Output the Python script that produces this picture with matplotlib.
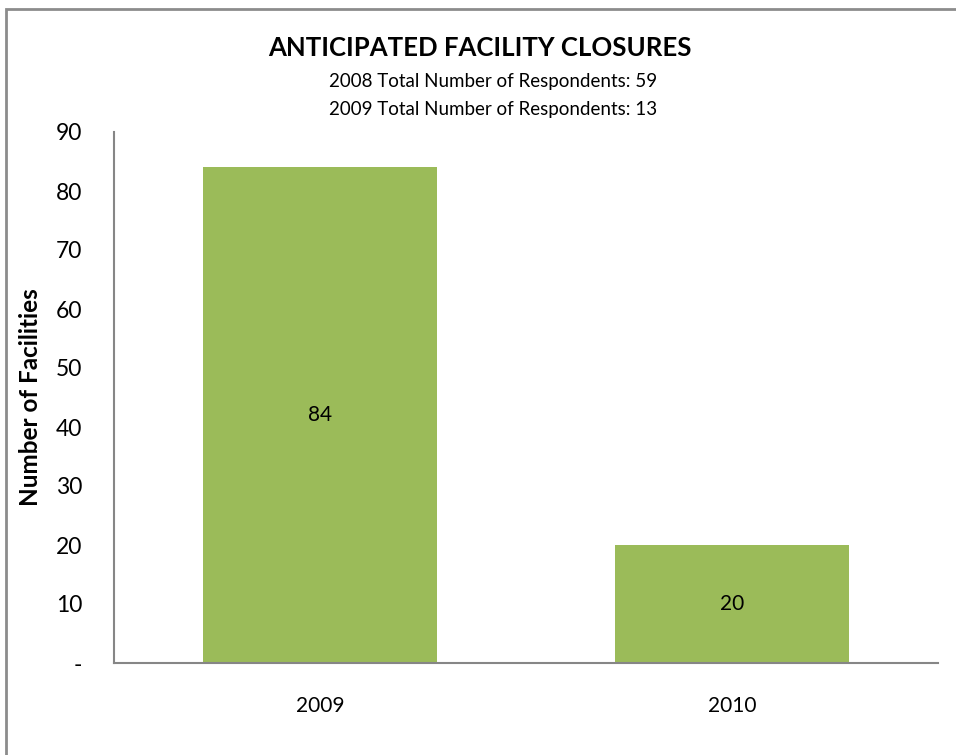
import matplotlib
matplotlib.use("Agg")
import matplotlib.pyplot as plt
from matplotlib.patches import Rectangle

plt.rcParams['font.family'] = ['Lato', 'DejaVu Sans']

years = ['2009', '2010']
closures = [84, 20]
y_ticks = [0, 10, 20, 30, 40, 50, 60, 70, 80, 90]
y_tick_labels = ['-', '10', '20', '30', '40', '50', '60', '70', '80', '90']

fig = plt.figure(figsize=(9.56, 7.55), dpi=100)

# outer chart frame (only left/top edges visible in the crop)
fig.patches.append(Rectangle((6 / 956, -0.1), 1.2, (755 - 9) / 755 + 0.1,
                             transform=fig.transFigure, fill=False,
                             edgecolor='#8c8c8c', linewidth=2))

ax = fig.add_axes([114 / 956, (755 - 663) / 755, (938 - 114) / 956, (663 - 132) / 755])

x = range(len(years))
bars = ax.bar(x, closures, width=0.57, color='#9bbb59')
for b, v in zip(bars, closures):
    ax.text(b.get_x() + b.get_width() / 2, v / 2, str(v),
            ha='center', va='center', fontsize=15)

ax.set_xlim(-0.5, 1.5)
ax.set_ylim(0, 90)
ax.set_xticks(list(x))
ax.set_xticklabels(years, fontsize=15)
ax.set_yticks(y_ticks)
ax.set_yticklabels(y_tick_labels, fontsize=16.5)
ax.tick_params(length=0)
ax.tick_params(axis='x', pad=24)
ax.tick_params(axis='y', pad=23)
ax.set_ylabel('Number of Facilities', fontsize=17.5, fontweight='bold')
ax.yaxis.set_label_coords(-0.087, 0.5)

for s in ['top', 'right']:
    ax.spines[s].set_visible(False)
for s in ['left', 'bottom']:
    ax.spines[s].set_color('#868686')
    ax.spines[s].set_linewidth(1.5)

fig.text(480 / 956, 1 - 48 / 755, 'ANTICIPATED FACILITY CLOSURES',
         ha='center', va='center', fontsize=18.5, fontweight='bold')
fig.text(493 / 956, 1 - 81 / 755, '2008 Total Number of Respondents: 59',
         ha='center', va='center', fontsize=13.5)
fig.text(493 / 956, 1 - 109 / 755, '2009 Total Number of Respondents: 13',
         ha='center', va='center', fontsize=13.5)

fig.savefig('out.png', dpi=100)
